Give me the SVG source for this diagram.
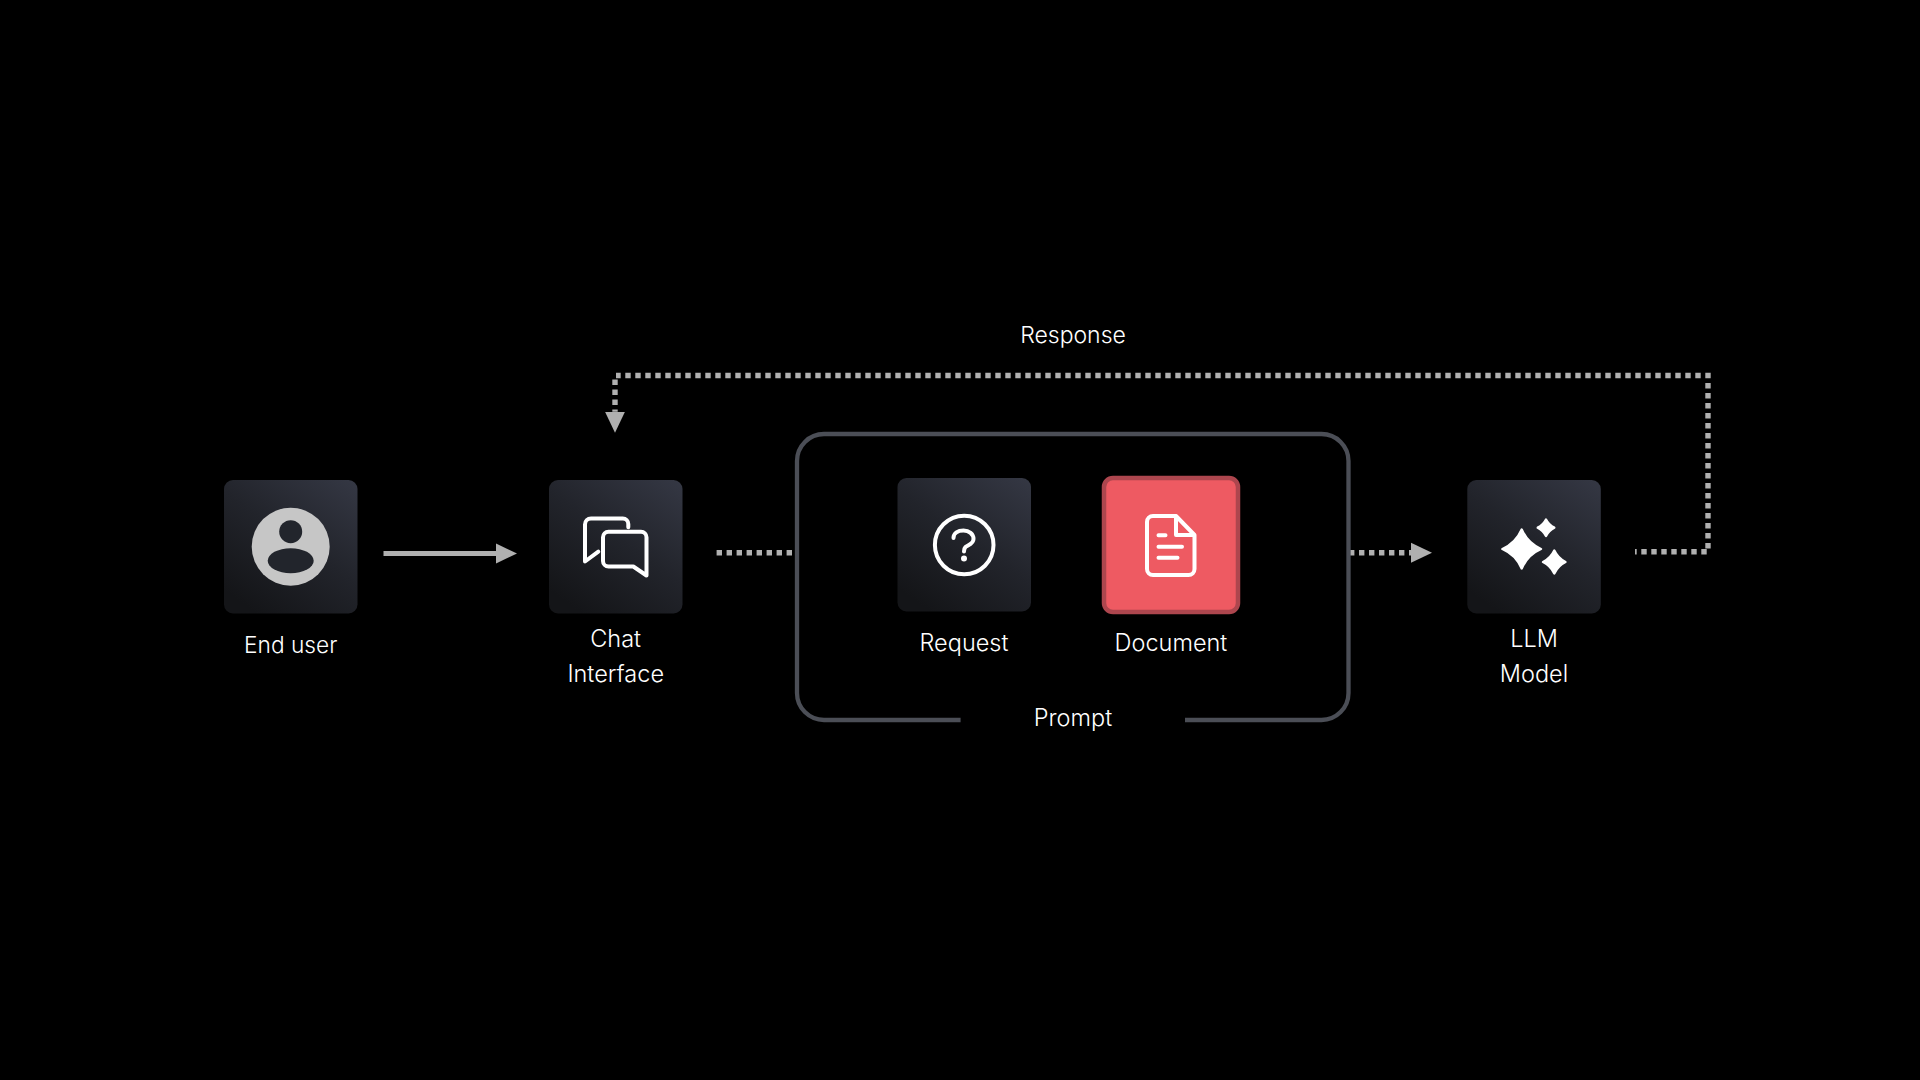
<svg xmlns="http://www.w3.org/2000/svg" width="1920" height="1080" viewBox="0 0 1920 1080">
<defs>
<linearGradient id="tile" x1="0.95" y1="0" x2="0.25" y2="1"><stop offset="0" stop-color="#343743"/><stop offset="0.5" stop-color="#22242b"/><stop offset="1" stop-color="#141518"/></linearGradient>
<marker id="head" markerUnits="userSpaceOnUse" markerWidth="22" markerHeight="22" viewBox="0 0 22 22" refX="0" refY="11" orient="auto"><path d="M0 1L21 11L0 21Z" fill="#b0b0b0"/></marker>
</defs>
<style>
text{font-family:"Inter","Liberation Sans",sans-serif;font-size:23.5px;font-weight:300;fill:#fff;text-anchor:middle}
.tile{fill:url(#tile)}
.ico{fill:none;stroke:#fff;stroke-width:4;stroke-linecap:round;stroke-linejoin:round}
.dot{fill:none;stroke:#b0b0b0;stroke-width:5.400;stroke-dasharray:5.400 4.600}
.solid{fill:none;stroke:#b0b0b0;stroke-width:5}
.frame{fill:none;stroke:#4b4e56;stroke-width:4.300}
.star{fill:#fff;stroke:#fff;stroke-width:2.400;stroke-linejoin:round}
</style>
<rect width="1920" height="1080" fill="#000"/>
<g id="connectors">
<path class="solid" d="M383.500 553.500H496" marker-end="url(#head)"/>
<path class="dot" d="M716.600 552.700H794"/>
<path class="dot" d="M1349 552.700H1411" marker-end="url(#head)"/>
<path class="dot" d="M1706.700 551.700H1635"/>
<path class="dot" d="M1708 383V549"/>
<path class="dot" d="M1710.700 375.500H616"/>
<path class="dot" d="M615 379.600V411.700" marker-end="url(#head)"/>
</g>
<g id="prompt">
<path class="frame" d="M960.600 720H824A27 27 0 0 1 797 693V461A27 27 0 0 1 824 434H1321.500A27 27 0 0 1 1348.500 461V693A27 27 0 0 1 1321.500 720H1185"/>
<text x="1073" y="726">Prompt</text>
</g>
<g id="end-user">
<rect class="tile" x="224" y="480" width="133.500" height="133.500" rx="9"/>
<circle cx="290.700" cy="546.700" r="39" fill="#c6c6c6"/>
<circle cx="290.700" cy="531.700" r="11.500" fill="#22252c"/>
<ellipse cx="290.700" cy="560.700" rx="23" ry="12.500" fill="#22252c"/>
<text x="290.700" y="653" style="font-size:22.700px">End user</text>
</g>
<g id="chat-interface">
<rect class="tile" x="549" y="480" width="133.500" height="133.500" rx="9"/>
<path class="ico" d="M628.300 527.300V524A5.500 5.500 0 0 0 622.800 518.500H591A6 6 0 0 0 585 524.500V561.500L598.300 551.700"/>
<path class="ico" d="M608.500 531.700H641A5.500 5.500 0 0 1 646.500 537.200V575.500L633.300 566.500H608.500A5.500 5.500 0 0 1 603 561V537.200A5.500 5.500 0 0 1 608.500 531.700Z"/>
<text x="615.700" y="647">Chat</text>
<text x="615.700" y="682">Interface</text>
</g>
<g id="request">
<rect class="tile" x="897.500" y="478" width="133.500" height="133.500" rx="9"/>
<circle class="ico" cx="964.200" cy="545" r="29.300"/>
<path class="ico" d="M953.500 538C953.500 533 958 530.500 963.500 530.500C969 530.500 973.500 534 973.500 539C973.500 544 968 545 965.500 547C964 548.500 964 550 964 551.500"/>
<circle cx="964" cy="558.500" r="3" fill="#fff"/>
<text x="964" y="651">Request</text>
</g>
<g id="document">
<rect x="1104" y="478" width="134" height="134" rx="9" fill="#ee5a62" stroke="#ad464e" stroke-width="4.500"/>
<path class="ico" d="M1176 516H1153A6 6 0 0 0 1147 522V569A6 6 0 0 0 1153 575H1188.500A6 6 0 0 0 1194.500 569V535L1176 516V535H1194.500"/>
<path class="ico" d="M1158.500 535.300H1165.500M1158.500 546.700H1182M1158.500 557.700H1177.500"/>
<text x="1171" y="651">Document</text>
</g>
<g id="llm-model">
<rect class="tile" x="1467.300" y="480" width="133.500" height="133.500" rx="9"/>
<path class="star" d="M1521.700 529.500Q1527.500 543 1541 549Q1527.500 555 1521.700 568.500Q1515.900 555 1502.400 549Q1515.900 543 1521.700 529.500Z"/>
<path class="star" d="M1546 519.500Q1548.800 525 1554.300 527.700Q1548.800 530.500 1546 536Q1543.200 530.500 1537.700 527.700Q1543.200 525 1546 519.500Z"/>
<path class="star" d="M1554.300 550.500Q1558 558.300 1565.500 562Q1558 565.700 1554.300 573.500Q1550.600 565.700 1543 562Q1550.600 558.300 1554.300 550.500Z"/>
<text x="1534" y="647">LLM</text>
<text x="1534" y="682">Model</text>
</g>
<text id="response-label" x="1073" y="343" style="font-size:23px">Response</text>
</svg>
